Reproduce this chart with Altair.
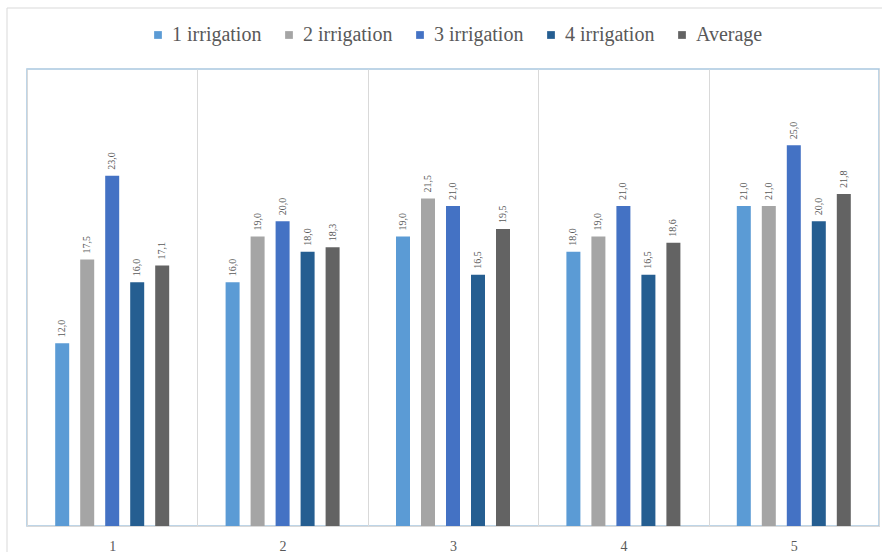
import altair as alt
import pandas as pd

groups = ["1", "2", "3", "4", "5"]
series = ["1 irrigation", "2 irrigation", "3 irrigation", "4 irrigation", "Average"]
colors = ["#5b9bd5", "#a5a5a5", "#4472c4", "#255e91", "#636363"]
values = {
    "1 irrigation": [12.0, 16.0, 19.0, 18.0, 21.0],
    "2 irrigation": [17.5, 19.0, 21.5, 19.0, 21.0],
    "3 irrigation": [23.0, 20.0, 21.0, 21.0, 25.0],
    "4 irrigation": [16.0, 18.0, 16.5, 16.5, 20.0],
    "Average": [17.1, 18.3, 19.5, 18.6, 21.8],
}

rows = []
for s in series:
    for g, v in zip(groups, values[s]):
        rows.append({"group": g, "series": s, "value": v})
df = pd.DataFrame(rows)

FONT = "Liberation Serif"

base = alt.Chart(df).encode(
    x=alt.X("group:N", sort=groups, title=None,
            scale=alt.Scale(paddingInner=0, paddingOuter=0),
            axis=alt.Axis(labelAngle=0, ticks=False, labelPadding=13, tickBand="extent",
                          grid=True, gridColor="#d9d9d9", domainColor="#d9d9d9",
                          labelColor="#595959", labelFont=FONT, labelFontSize=14)),
    xOffset=alt.XOffset("series:N", sort=series,
                        scale=alt.Scale(paddingInner=0.184, paddingOuter=1)),
    y=alt.Y("value:Q", scale=alt.Scale(domain=[0, 30]), axis=None),
)

bars = base.mark_bar(width=14).encode(
    color=alt.Color("series:N", sort=series,
                    scale=alt.Scale(domain=series, range=colors),
                    legend=alt.Legend(title=None, orient="none", direction="horizontal",
                                      columns=5, legendX=121, legendY=-44,
                                      symbolType="square", symbolSize=60,
                                      symbolStrokeWidth=0, labelFont=FONT,
                                      labelFontSize=20, labelColor="#595959",
                                      columnPadding=17, labelOffset=4)),
)

labels = base.transform_calculate(
    lbl="replace(format(datum.value, '.1f'), '.', ',')"
).mark_text(angle=270, align="left", baseline="middle", dx=6,
            font=FONT, fontSize=10, color="#595959").encode(text="lbl:N")

frame_top = alt.Chart(pd.DataFrame({"a": [0]})).mark_rule(color="#d9d9d9", strokeWidth=1).encode(
    x=alt.value(-20), x2=alt.value(855), y=alt.value(-61))
frame_left = alt.Chart(pd.DataFrame({"a": [0]})).mark_rule(color="#d9d9d9", strokeWidth=1).encode(
    x=alt.value(-20), y=alt.value(-61), y2=alt.value(483))

chart = alt.layer(bars, labels, frame_top, frame_left).properties(
    width=852, height=457,
    autosize=alt.AutoSizeParams(type="none"),
    padding={"left": 27, "top": 69, "right": 3, "bottom": 29},
    background="white",
).configure_view(stroke="#a9c7e0", strokeWidth=1.5)

chart.save("out.html", embed_options={"renderer": "svg", "actions": False})
